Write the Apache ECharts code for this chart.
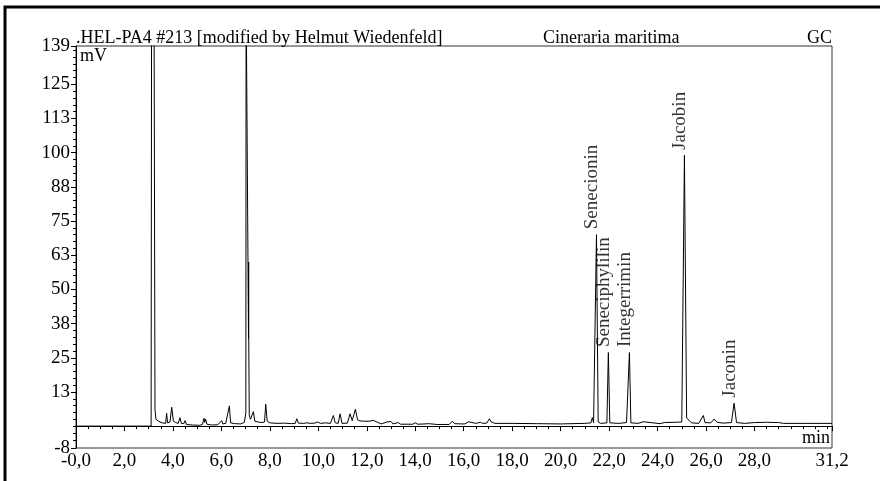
<!DOCTYPE html>
<html>
<head>
<meta charset="utf-8">
<script src="https://cdn.jsdelivr.net/npm/echarts@6/dist/echarts.min.js"></script>
<style>
	html, body { margin: 0; padding: 0; background: #ffffff; }
	#chart_gc { width: 880px; height: 481px; }
</style>
</head>
<body>
<div id="chart_gc"></div>
<script>
	// retention time (min) and detector signal (mV)
	var retentionTime = [
		0, 3.10, 3.12, 3.22, 3.26, 3.30, 3.40, 3.55, 3.70, 3.74, 3.78, 3.88, 3.95, 4.02, 4.12, 4.22, 4.29, 4.35, 4.45, 4.50,
		4.56, 4.80, 5.10, 5.22, 5.28, 5.31, 5.35, 5.40, 5.60, 5.85, 6.01, 6.06, 6.18, 6.26, 6.33, 6.38, 6.55, 6.80, 6.95, 7.01,
		7.02, 7.10, 7.12, 7.125, 7.13, 7.15, 7.20, 7.26, 7.32, 7.38, 7.45, 7.52, 7.60, 7.66, 7.78, 7.83, 7.89, 8.00, 8.30, 8.60,
		8.90, 9.05, 9.11, 9.18, 9.40, 9.52, 9.59, 9.68, 9.85, 9.97, 10.10, 10.30, 10.50, 10.62, 10.70, 10.82, 10.90, 10.98, 11.20, 11.31,
		11.40, 11.53, 11.62, 11.72, 11.80, 11.88, 12.10, 12.27, 12.35, 12.60, 12.82, 12.90, 13.00, 13.08, 13.30, 13.40, 13.90, 14.00, 14.10, 14.40,
		14.47, 14.55, 14.90, 15.40, 15.53, 15.62, 15.90, 15.98, 16.05, 16.20, 16.28, 16.50, 16.69, 16.78, 16.95, 17.06, 17.13, 17.20, 17.28, 18.00,
		19.00, 20.00, 21.00, 21.25, 21.31, 21.36, 21.41, 21.48, 21.55, 21.65, 21.91, 21.97, 22.03, 22.40, 22.72, 22.78, 22.84, 22.90, 23.20, 23.41,
		23.48, 24.10, 24.28, 24.35, 25.00, 25.11, 25.20, 25.40, 25.70, 25.89, 25.96, 26.20, 26.34, 26.45, 26.70, 27.05, 27.16, 27.26, 27.60, 28.00,
		28.50, 29.00, 29.20, 30.00, 31.20
	];
	var signal = [
		0, 0, 160, 160, 6, 2.5, 1.8, 1.2, 1.0, 4.7, 1.2, 1.5, 6.9, 1.8, 1.3, 1.0, 3.1, 1.0, 0.9, 2.0,
		0.6, 0.4, 0.3, 0.6, 2.9, 1.4, 2.6, 0.7, 0.4, 0.5, 2.0, 0.8, 1.0, 1.5, 7.4, 1.2, 0.9, 0.8, 1.4, 5,
		160, 160, 32, 60, 32, 4, 2.5, 1.8, 5.3, 1.8, 2.0, 1.5, 2.2, 1.3, 1.5, 8.0, 1.8, 1.2, 1.0, 1.1,
		0.9, 1.0, 2.7, 1.1, 1.0, 1.2, 1.9, 1.0, 1.1, 1.5, 1.0, 1.2, 1.0, 3.9, 1.2, 1.0, 4.5, 1.0, 1.1, 4.5,
		2.0, 6.2, 2.3, 1.9, 2.5, 1.8, 1.8, 2.1, 1.4, 0.8, 1.5, 0.9, 1.7, 0.8, 1.3, 0.7, 0.7, 1.2, 0.7, 0.8,
		1.5, 0.9, 0.6, 0.6, 1.8, 0.9, 0.8, 1.5, 0.8, 1.6, 0.9, 1.0, 1.4, 1.0, 1.1, 2.7, 1.6, 2.2, 1.0, 1.0,
		0.9, 0.8, 1.0, 1.2, 3.1, 1.3, 1.5, 70, 1.5, 1.0, 1.2, 26.9, 1.2, 1.0, 1.3, 2.0, 26.9, 1.2, 1.0, 1.6,
		1.0, 0.9, 1.3, 0.9, 1.5, 99, 3.0, 1.2, 1.0, 3.9, 1.3, 1.2, 2.6, 1.4, 1.1, 1.3, 8.4, 1.3, 1.0, 1.3,
		1.4, 1.3, 1.0, 1.0, 1.0
	];

	// named peaks
	var peakNames = ['Senecionin', 'Seneciphylilin', 'Integerrimin', 'Jacobin', 'Jaconin'];
	var peakTimes = [21.48, 21.97, 22.84, 25.11, 27.16];
	var peakHeights = [70, 26.9, 26.9, 99, 8.4];

	// axis labels
	var xLabelValues = [0, 2, 4, 6, 8, 10, 12, 14, 16, 18, 20, 22, 24, 26, 28, 31.2];
	var xLabelTexts = ['-0,0', '2,0', '4,0', '6,0', '8,0', '10,0', '12,0', '14,0', '16,0', '18,0', '20,0', '22,0', '24,0', '26,0', '28,0', '31,2'];
	var yLabelValues = [-8, 12.5, 25, 37.5, 50, 62.5, 75, 87.5, 100, 112.5, 125, 139];
	var yLabelTexts = ['-8', '13', '25', '38', '50', '63', '75', '88', '100', '113', '125', '139'];

	var serif = "'Liberation Serif', 'Times New Roman', serif";

	var xMinor = [];
	for (var i = 0; i <= 62; i++) xMinor.push(i * 0.5);
	var yMinor = [];
	for (var j = -2; j <= 55; j++) yMinor.push(j * 2.5);

	var traceData = retentionTime.map(function (t, k) { return [t, signal[k]]; });
	var peakData = peakTimes.map(function (t, k) { return { value: [t, peakHeights[k]], name: peakNames[k] }; });

	var chart_gc = echarts.init(document.getElementById('chart_gc'));
	var option_gc = {
		animation: false,
		backgroundColor: '#ffffff',
		grid: {
			left: 76, right: 48, top: 46, bottom: 33,
			show: true, borderColor: '#333333', borderWidth: 1
		},
		xAxis: [{
			type: 'value', min: 0, max: 31.2, position: 'bottom',
			splitLine: { show: false },
			axisLine: { lineStyle: { color: '#000000', width: 1 } },
			axisTick: { customValues: xLabelValues, length: 5, lineStyle: { color: '#000000' } },
			axisLabel: {
				customValues: xLabelValues, margin: 4,
				color: '#000000', fontFamily: serif, fontSize: 19,
				formatter: function (v) { return xLabelTexts[xLabelValues.indexOf(v)]; }
			}
		}, {
			type: 'value', min: 0, max: 31.2, position: 'bottom',
			splitLine: { show: false },
			axisLine: { show: false },
			axisTick: { customValues: xMinor, length: 3, lineStyle: { color: '#000000' } },
			axisLabel: { show: false }
		}],
		yAxis: [{
			type: 'value', min: -8, max: 139, position: 'left',
			splitLine: { show: false },
			axisLine: { show: true, lineStyle: { color: '#000000', width: 1 } },
			axisTick: { show: true, customValues: yLabelValues, length: 5, lineStyle: { color: '#000000' } },
			axisLabel: {
				customValues: yLabelValues, margin: 6,
				color: '#000000', fontFamily: serif, fontSize: 19,
				formatter: function (v) { return yLabelTexts[yLabelValues.indexOf(v)]; }
			}
		}, {
			type: 'value', min: -8, max: 139, position: 'left',
			splitLine: { show: false },
			axisLine: { show: false },
			axisTick: { show: true, customValues: yMinor, length: 3, lineStyle: { color: '#000000' } },
			axisLabel: { show: false }
		}],
		graphic: [
			// outer frame, only top and left edges fall inside the picture
			{ type: 'polyline', shape: { points: [[5, 481], [5, 7], [880, 7]] }, style: { fill: 'none', stroke: '#000000', lineWidth: 3 } },
			{ type: 'text', x: 76, y: 47, style: { text: '.HEL-PA4 #213 [modified by Helmut Wiedenfeld]', font: '18px ' + serif, fill: '#000000', verticalAlign: 'bottom' } },
			{ type: 'text', x: 543, y: 47, style: { text: 'Cineraria maritima', font: '18px ' + serif, fill: '#000000', verticalAlign: 'bottom' } },
			{ type: 'text', x: 832, y: 47, style: { text: 'GC', font: '18px ' + serif, fill: '#000000', align: 'right', verticalAlign: 'bottom' } },
			{ type: 'text', x: 80, y: 47, style: { text: 'mV', font: '18px ' + serif, fill: '#000000', verticalAlign: 'top' } },
			{ type: 'text', x: 830, y: 447, style: { text: 'min', font: '18px ' + serif, fill: '#000000', align: 'right', verticalAlign: 'bottom' } }
		],
		series: [{
			type: 'line',
			data: traceData,
			showSymbol: false,
			clip: true,
			lineStyle: { color: '#000000', width: 1 }
		}, {
			type: 'scatter',
			data: peakData,
			symbolSize: 1,
			itemStyle: { color: 'rgba(0,0,0,0)' },
			label: {
				show: true, position: 'top', distance: 5, rotate: 90,
				align: 'left', verticalAlign: 'middle', offset: [0, -4],
				color: '#000000', fontFamily: serif, fontSize: 19,
				formatter: function (p) { return p.name; }
			}
		}]
	};
	chart_gc.setOption(option_gc);
</script>
</body>
</html>
